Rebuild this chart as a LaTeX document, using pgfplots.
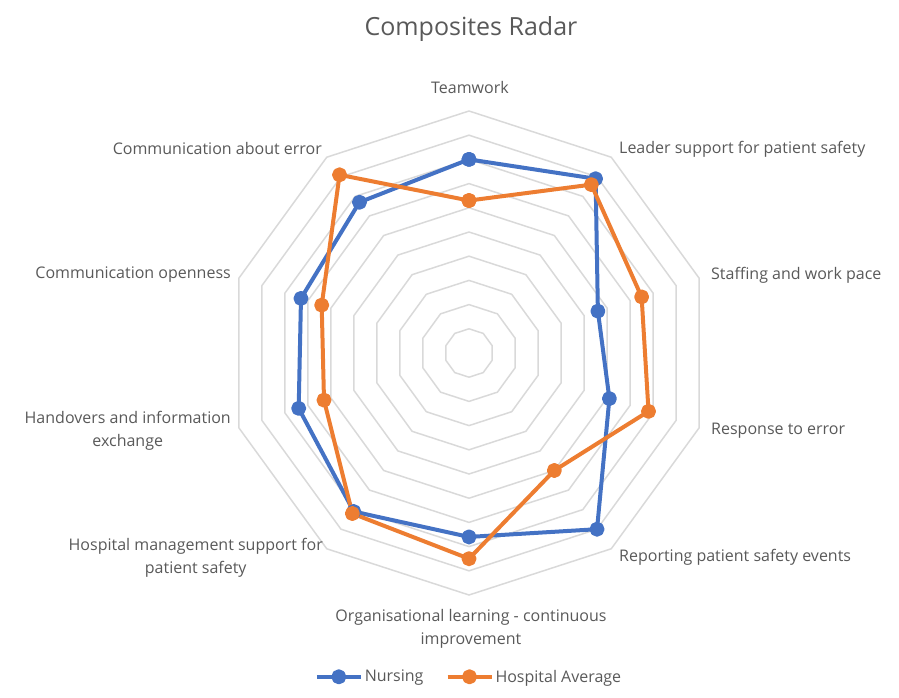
\documentclass[border=0pt]{standalone}
\usepackage{pgfplots}
\pgfplotsset{compat=1.18}
\usepgfplotslibrary{polar}
\usepackage{fontspec}
\setmainfont{Open Sans}
\definecolor{nblue}{HTML}{4472C4}
\definecolor{horange}{HTML}{ED7D31}
\definecolor{gridc}{HTML}{D9D9D9}
\definecolor{txt}{HTML}{595959}
\begin{document}
\begin{tikzpicture}[x=1pt,y=1pt]
\begin{polaraxis}[
  at={(469pt,345pt)}, anchor=center,
  scale only axis, width=484pt, height=484pt,
  ymin=0, ymax=100, xmin=0, xmax=360,
  hide axis, clip=false,
  legend columns=2,
  legend style={at={(0.5,-0.169)}, anchor=center, draw=none, fill=none,
    font=\fontsize{16}{18}\selectfont\color{txt},
    /tikz/every even column/.append style={column sep=20pt}},
  legend image code/.code={\draw[mark repeat=2,mark phase=2,#1] plot coordinates {(0pt,0pt) (22pt,0pt) (44pt,0pt)};},
]
\pgfplotsinvokeforeach{10,20,30,40,50,60,70,80,90,100}{
  \addplot[gridc, line width=1.5pt, forget plot] coordinates {(90,#1) (54,#1) (18,#1) (-18,#1) (-54,#1) (-90,#1) (-126,#1) (-162,#1) (162,#1) (126,#1) (90,#1)};
}
\addplot[nblue, line width=4pt, line join=round, mark=*, mark size=5.5pt, mark options={solid, fill=nblue}] table {
a r
90 80
54 89
18 56
-18 61
-54 90
-90 76
-126 81
-162 74
162 73
126 77
90 80
};
\addplot[horange, line width=4pt, line join=round, mark=*, mark size=5.5pt, mark options={solid, fill=horange}] table {
a r
90 63
54 86
18 75
-18 78
-54 60
-90 85
-126 82
-162 63
162 64
126 91
90 63
};
\legend{Nursing, Hospital Average}
\end{polaraxis}
\begin{scope}[every node/.style={text=txt, font=\fontsize{16}{22.5}\selectfont, inner sep=0pt}]
\node[font=\fontsize{25}{28}\selectfont, text=txt] at (471,669) {Composites Radar};
\node[anchor=center] at (470,610) {Teamwork};
\node[anchor=west] at (619,549) {Leader support for patient safety};
\node[anchor=west] at (711,423) {Staffing and work pace};
\node[anchor=west] at (711,267) {Response to error};
\node[anchor=west] at (619,141) {Reporting patient safety events};
\node[anchor=center, align=center] at (471,69) {Organisational learning - continuous\\improvement};
\node[anchor=east, align=center] at (323,140) {Hospital management support for\\patient safety};
\node[anchor=east, align=center] at (231,267) {Handovers and information\\exchange};
\node[anchor=east] at (231,423) {Communication openness};
\node[anchor=east] at (322,549) {Communication about error};
\end{scope}
\pgfresetboundingbox
\path[use as bounding box] (0,0) rectangle (899,698);
\end{tikzpicture}
\end{document}
